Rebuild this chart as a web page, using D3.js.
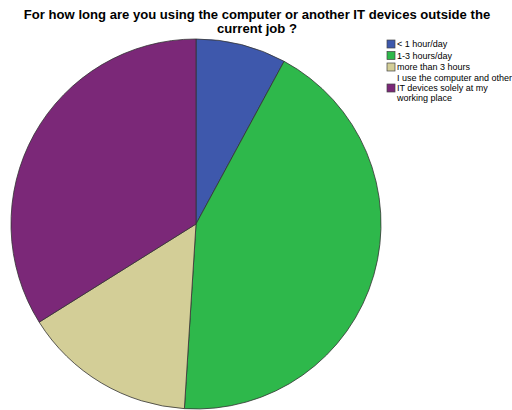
<!DOCTYPE html>
<html><head><meta charset="utf-8">
<script src="https://cdn.jsdelivr.net/npm/d3@7"></script>
<style>body{margin:0;background:#fff}</style>
</head><body>
<script>
const titleLines = ["For how long are you using the computer or another IT devices outside the", "current job ?"];
const categories = ["< 1 hour/day", "1-3 hours/day", "more than 3 hours", "I use the computer and other IT devices solely at my working place"];
const legendLines = [["< 1 hour/day"], ["1-3 hours/day"], ["more than 3 hours"], ["I use the computer and other", "IT devices solely at my", "working place"]];
const values = [7.9, 43.1, 15.1, 33.9];
const colors = ["#3e58ac", "#2eb84b", "#d3ce97", "#7b2878"];

const W = 512, H = 410;
const svg = d3.select("body").append("svg").attr("width", W).attr("height", H);

const title = svg.append("text").attr("text-anchor", "middle")
  .style("font-family", "Liberation Sans, Arial, sans-serif").style("font-weight", "bold").style("font-size", "13.1px").attr("fill", "#000");
titleLines.forEach((t, i) => title.append("tspan").attr("x", 257).attr("y", 19 + i * 13.5).text(t));

const pie = d3.pie().sort(null).value(d => d)(values);
const arc = d3.arc().innerRadius(0).outerRadius(185);
const g = svg.append("g").attr("transform", "translate(196,224)");
g.selectAll("path").data(pie).join("path")
  .attr("d", arc).attr("fill", (d, i) => colors[i])
  .attr("stroke", "#333").attr("stroke-width", 0.8).attr("stroke-linejoin", "round");

const lg = svg.append("g").style("font-family", "Liberation Sans, Arial, sans-serif").style("font-size", "9px");
const itemY = [44, 55.5, 67, 88];
legendLines.forEach((lines, i) => {
  lg.append("rect").attr("x", 387).attr("y", itemY[i] - 4).attr("width", 8).attr("height", 8)
    .attr("fill", colors[i]).attr("stroke", "#444").attr("stroke-width", 0.7);
  const t = lg.append("text").attr("fill", "#000");
  const n = lines.length;
  lines.forEach((l, j) => t.append("tspan").attr("x", 397).attr("y", itemY[i] + 3.2 + (j - (n - 1) / 2) * 10).text(l));
});
</script>
</body></html>
